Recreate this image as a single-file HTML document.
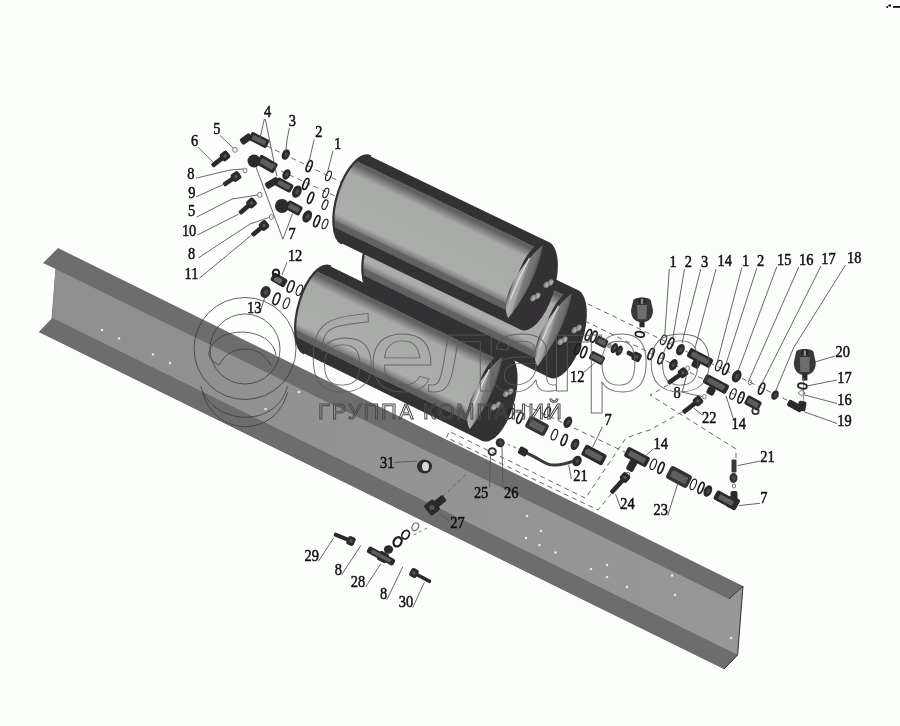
<!DOCTYPE html><html><head><meta charset="utf-8"><style>html,body{margin:0;padding:0;background:#fcfefc;} svg{display:block;will-change:transform}</style></head><body>
<svg width="900" height="726" viewBox="0 0 900 726">
<defs>
<linearGradient id="cg" gradientUnits="userSpaceOnUse" x1="0" y1="-1" x2="0" y2="1">
<stop offset="0" stop-color="#333133"/><stop offset="0.11" stop-color="#333133"/>
<stop offset="0.112" stop-color="#5f5e60"/><stop offset="0.15" stop-color="#626162"/>
<stop offset="0.26" stop-color="#a8aaa8"/><stop offset="0.73" stop-color="#abadab"/>
<stop offset="0.80" stop-color="#7c7c7c"/><stop offset="0.81" stop-color="#646364"/><stop offset="0.875" stop-color="#5f5e60"/>
<stop offset="0.877" stop-color="#333133"/><stop offset="1" stop-color="#333133"/>
</linearGradient>
<linearGradient id="lg" gradientUnits="objectBoundingBox" x1="0" y1="0" x2="1" y2="0">
<stop offset="0" stop-color="#3e3e3e"/><stop offset="0.1" stop-color="#8e8e8e"/>
<stop offset="0.22" stop-color="#b2b2b2"/><stop offset="0.45" stop-color="#a2a2a2"/><stop offset="0.55" stop-color="#7c7c7c"/><stop offset="0.85" stop-color="#6c6c6c"/><stop offset="1" stop-color="#505050"/>
</linearGradient>
<linearGradient id="wg" gradientUnits="userSpaceOnUse" x1="50" y1="0" x2="740" y2="0"><stop offset="0" stop-color="#8f8f8f"/><stop offset="1" stop-color="#979797"/></linearGradient>
</defs>
<rect width="900" height="726" fill="#fcfefc"/>
<polygon points="58,248 743,586 737.6,655 724,669 39,332 51.5,319 55.5,269 43,263" fill="#6d6d6d"/>
<polygon points="55.5,269 729,599 743,586 737.6,655 52,318" fill="url(#wg)"/>
<polygon points="52,318 737.6,655 724,669 39,332 51.5,319" fill="#6d6d6d"/>
<polyline points="743,586 729,599" stroke="#333" stroke-width="1" fill="none"/>
<polyline points="743,586 737.6,655 724,669" stroke="#333" stroke-width="1" fill="none"/>
<circle cx="102" cy="330" r="1.3" fill="#e8e8e8"/>
<circle cx="119" cy="338.5" r="1.3" fill="#e8e8e8"/>
<circle cx="153" cy="354.5" r="1.3" fill="#e8e8e8"/>
<circle cx="170" cy="363" r="1.3" fill="#e8e8e8"/>
<circle cx="265.5" cy="409" r="1.3" fill="#e8e8e8"/>
<circle cx="299" cy="392" r="1.3" fill="#e8e8e8"/>
<circle cx="527" cy="516" r="1.3" fill="#e8e8e8"/>
<circle cx="541" cy="531" r="1.3" fill="#e8e8e8"/>
<circle cx="526" cy="538" r="1.3" fill="#e8e8e8"/>
<circle cx="539.5" cy="545" r="1.3" fill="#e8e8e8"/>
<circle cx="555.5" cy="552.5" r="1.3" fill="#e8e8e8"/>
<circle cx="591" cy="569" r="1.3" fill="#e8e8e8"/>
<circle cx="607" cy="565" r="1.3" fill="#e8e8e8"/>
<circle cx="607" cy="577" r="1.3" fill="#e8e8e8"/>
<circle cx="627" cy="587" r="1.3" fill="#e8e8e8"/>
<circle cx="672" cy="575.5" r="1.3" fill="#e8e8e8"/>
<circle cx="675" cy="595" r="1.3" fill="#e8e8e8"/>
<circle cx="731" cy="638" r="1.3" fill="#e8e8e8"/>
<g transform="matrix(0.901,0.434,-14.4,43.6,385.4,248)">
<path d="M0,-1 L198,-1 L198,1 L0,1 A20,1 0 0 1 0,-1 Z" fill="url(#cg)"/>
<path d="M0,-1 A20,1 0 0 0 0,1" fill="none" stroke="#333133" stroke-width="2.2" vector-effect="non-scaling-stroke"/>
<ellipse cx="198" cy="0" rx="20" ry="1" fill="#333133"/>
<path d="M192.5,-0.87 C186,-0.62 176.5,-0.15 175,0.3 C174.2,0.6 178,0.82 182.8,0.89 C187.5,0.6 192.5,0.2 194.3,-0.3 C194.8,-0.6 193.8,-0.82 192.5,-0.87 Z" fill="url(#lg)"/>
<path d="M184,-0.5 C181,-0.1 179.5,0.25 178.8,0.5" fill="none" stroke="#e0e0e0" stroke-width="1.2" vector-effect="non-scaling-stroke"/>
</g>
<ellipse cx="574.5" cy="330.2" rx="2.6" ry="3.4" transform="rotate(30 574.5 330.2)" fill="#8a8a8a"/>
<ellipse cx="575.1" cy="329.8" rx="1.3" ry="2" transform="rotate(30 574.5 330.2)" fill="#b0b0b0"/>
<ellipse cx="578.9" cy="327.8" rx="2.6" ry="3.4" transform="rotate(30 578.9 327.8)" fill="#8a8a8a"/>
<ellipse cx="579.5" cy="327.4" rx="1.3" ry="2" transform="rotate(30 578.9 327.8)" fill="#b0b0b0"/>
<ellipse cx="560.4" cy="341.9" rx="2.6" ry="3.4" transform="rotate(30 560.4 341.9)" fill="#8a8a8a"/>
<ellipse cx="561" cy="341.5" rx="1.3" ry="2" transform="rotate(30 560.4 341.9)" fill="#b0b0b0"/>
<ellipse cx="564.8" cy="339.5" rx="2.6" ry="3.4" transform="rotate(30 564.8 339.5)" fill="#8a8a8a"/>
<ellipse cx="565.4" cy="339.1" rx="1.3" ry="2" transform="rotate(30 564.8 339.5)" fill="#b0b0b0"/>
<g transform="matrix(0.901,0.434,-14.4,43.6,356.4,200)">
<path d="M0,-1 L198,-1 L198,1 L0,1 A20,1 0 0 1 0,-1 Z" fill="url(#cg)"/>
<path d="M0,-1 A20,1 0 0 0 0,1" fill="none" stroke="#333133" stroke-width="2.2" vector-effect="non-scaling-stroke"/>
<ellipse cx="198" cy="0" rx="20" ry="1" fill="#333133"/>
<path d="M192.5,-0.87 C186,-0.62 176.5,-0.15 175,0.3 C174.2,0.6 178,0.82 182.8,0.89 C187.5,0.6 192.5,0.2 194.3,-0.3 C194.8,-0.6 193.8,-0.82 192.5,-0.87 Z" fill="url(#lg)"/>
<path d="M184,-0.5 C181,-0.1 179.5,0.25 178.8,0.5" fill="none" stroke="#e0e0e0" stroke-width="1.2" vector-effect="non-scaling-stroke"/>
</g>
<ellipse cx="546.4" cy="284.9" rx="2.6" ry="3.4" transform="rotate(30 546.4 284.9)" fill="#8a8a8a"/>
<ellipse cx="547" cy="284.5" rx="1.3" ry="2" transform="rotate(30 546.4 284.9)" fill="#b0b0b0"/>
<ellipse cx="550.8" cy="282.5" rx="2.6" ry="3.4" transform="rotate(30 550.8 282.5)" fill="#8a8a8a"/>
<ellipse cx="551.4" cy="282.1" rx="1.3" ry="2" transform="rotate(30 550.8 282.5)" fill="#b0b0b0"/>
<ellipse cx="533.2" cy="298.2" rx="2.6" ry="3.4" transform="rotate(30 533.2 298.2)" fill="#8a8a8a"/>
<ellipse cx="533.8" cy="297.8" rx="1.3" ry="2" transform="rotate(30 533.2 298.2)" fill="#b0b0b0"/>
<ellipse cx="537.6" cy="295.8" rx="2.6" ry="3.4" transform="rotate(30 537.6 295.8)" fill="#8a8a8a"/>
<ellipse cx="538.2" cy="295.4" rx="1.3" ry="2" transform="rotate(30 537.6 295.8)" fill="#b0b0b0"/>
<g transform="matrix(0.898,0.44,-13.25,43.55,317.45,310.05)">
<path d="M0,-1 L198,-1 L198,1 L0,1 A20,1 0 0 1 0,-1 Z" fill="url(#cg)"/>
<path d="M0,-1 A20,1 0 0 0 0,1" fill="none" stroke="#333133" stroke-width="2.2" vector-effect="non-scaling-stroke"/>
<ellipse cx="198" cy="0" rx="20" ry="1" fill="#333133"/>
<path d="M192.5,-0.87 C186,-0.62 176.5,-0.15 175,0.3 C174.2,0.6 178,0.82 182.8,0.89 C187.5,0.6 192.5,0.2 194.3,-0.3 C194.8,-0.6 193.8,-0.82 192.5,-0.87 Z" fill="url(#lg)"/>
<path d="M184,-0.5 C181,-0.1 179.5,0.25 178.8,0.5" fill="none" stroke="#e0e0e0" stroke-width="1.2" vector-effect="non-scaling-stroke"/>
</g>
<ellipse cx="506" cy="393.9" rx="2.6" ry="3.4" transform="rotate(30 506 393.9)" fill="#8a8a8a"/>
<ellipse cx="506.6" cy="393.5" rx="1.3" ry="2" transform="rotate(30 506 393.9)" fill="#b0b0b0"/>
<ellipse cx="510.4" cy="391.5" rx="2.6" ry="3.4" transform="rotate(30 510.4 391.5)" fill="#8a8a8a"/>
<ellipse cx="511" cy="391.1" rx="1.3" ry="2" transform="rotate(30 510.4 391.5)" fill="#b0b0b0"/>
<ellipse cx="493.8" cy="407.2" rx="2.6" ry="3.4" transform="rotate(30 493.8 407.2)" fill="#8a8a8a"/>
<ellipse cx="494.4" cy="406.8" rx="1.3" ry="2" transform="rotate(30 493.8 407.2)" fill="#b0b0b0"/>
<ellipse cx="498.2" cy="404.8" rx="2.6" ry="3.4" transform="rotate(30 498.2 404.8)" fill="#8a8a8a"/>
<ellipse cx="498.8" cy="404.4" rx="1.3" ry="2" transform="rotate(30 498.2 404.8)" fill="#b0b0b0"/>
<polyline points="267,146 341,182" fill="none" stroke="#666" stroke-width="1" stroke-dasharray="5,4"/>
<polyline points="281,171 335,196" fill="none" stroke="#666" stroke-width="1" stroke-dasharray="5,4"/>
<polyline points="588,304 795,404" fill="none" stroke="#666" stroke-width="1" stroke-dasharray="5,4"/>
<polyline points="585,321 750,402" fill="none" stroke="#666" stroke-width="1" stroke-dasharray="5,4"/>
<polyline points="668,385 650,395 736,449 736,460" fill="none" stroke="#666" stroke-width="1" stroke-dasharray="5,4"/>
<polyline points="682,412 650,430 640,433 626,438 585.5,498.2 449.5,431.5 446.5,437.5 598,510 612,493 628,474" fill="none" stroke="#666" stroke-width="1" stroke-dasharray="5,4"/>
<polyline points="525,405 625,452" fill="none" stroke="#666" stroke-width="1" stroke-dasharray="5,4"/>
<polyline points="465.8,474.5 426,512.6" fill="none" stroke="#666" stroke-width="1" stroke-dasharray="4,3"/>
<polyline points="502,442 520,449.5" fill="none" stroke="#666" stroke-width="1" stroke-dasharray="3,3"/>
<polyline points="427,528 412,536" fill="none" stroke="#777" stroke-width="1" stroke-dasharray="3,3"/>
<rect x="249" y="135.5" width="20" height="9" rx="2" transform="rotate(27 259 140)" fill="#2a2a2a"/>
<rect x="240" y="135.5" width="12" height="7" rx="2" transform="rotate(-35 246 139)" fill="#2a2a2a"/>
<rect x="257" y="158.5" width="20" height="11" rx="2" transform="rotate(30 267 164)" fill="#2a2a2a"/>
<circle cx="254" cy="161" r="6.5" fill="#2a2a2a"/>
<rect x="275" y="180.5" width="18" height="9" rx="2" transform="rotate(28 284 185)" fill="#2a2a2a"/>
<rect x="265" y="179.5" width="14" height="7" rx="2" transform="rotate(-30 272 183)" fill="#2a2a2a"/>
<rect x="286" y="203" width="16" height="10" rx="2" transform="rotate(28 294 208)" fill="#2a2a2a"/>
<circle cx="282" cy="206" r="7" fill="#2a2a2a"/>
<rect x="210.3" y="158.7" width="16.401219466856727" height="4.6" rx="1.5" transform="rotate(142.43140797117252 218.5 161.0)" fill="#2a2a2a"/>
<rect x="220.5" y="151.5" width="9" height="9" rx="2.5" transform="rotate(142.43140797117252 225 156)" fill="#2a2a2a"/>
<circle cx="225" cy="156" r="1.8" fill="#555"/>
<rect x="222.2" y="178.4" width="15.116216457830975" height="4.6" rx="1.5" transform="rotate(145.7842978675626 229.75 180.75)" fill="#2a2a2a"/>
<rect x="231.5" y="172" width="9" height="9" rx="2.5" transform="rotate(145.7842978675626 236 176.5)" fill="#2a2a2a"/>
<circle cx="236" cy="176.5" r="1.8" fill="#555"/>
<rect x="237.5" y="205.9" width="15.945218719101975" height="4.6" rx="1.5" transform="rotate(138.81407483429035 245.5 208.25)" fill="#2a2a2a"/>
<rect x="247" y="198.5" width="9" height="9" rx="2.5" transform="rotate(138.81407483429035 251.5 203)" fill="#2a2a2a"/>
<circle cx="251.5" cy="203" r="1.8" fill="#555"/>
<rect x="250.2" y="228.2" width="15.620499351813308" height="4.6" rx="1.5" transform="rotate(140.19442890773482 258.0 230.5)" fill="#2a2a2a"/>
<rect x="259.5" y="221" width="9" height="9" rx="2.5" transform="rotate(140.19442890773482 264 225.5)" fill="#2a2a2a"/>
<circle cx="264" cy="225.5" r="1.8" fill="#555"/>
<ellipse cx="235" cy="149.8" rx="2.2" ry="2.6" transform="rotate(0 235 149.8)" fill="none" stroke="#777" stroke-width="1"/>
<ellipse cx="259.8" cy="194.8" rx="2.2" ry="2.6" transform="rotate(0 259.8 194.8)" fill="none" stroke="#777" stroke-width="1"/>
<ellipse cx="245" cy="170.5" rx="2" ry="2.4" transform="rotate(0 245 170.5)" fill="none" stroke="#777" stroke-width="1"/>
<ellipse cx="271.3" cy="217" rx="2" ry="2.4" transform="rotate(0 271.3 217)" fill="none" stroke="#777" stroke-width="1"/>
<ellipse cx="285.8" cy="154.5" rx="3.8" ry="5.5" transform="rotate(25 285.8 154.5)" fill="#2a2a2a"/>
<ellipse cx="286.2" cy="154.5" rx="1.52" ry="2.475" transform="rotate(25 285.8 154.5)" fill="#4a4a4a"/>
<ellipse cx="286.5" cy="174.4" rx="3.8" ry="5.5" transform="rotate(25 286.5 174.4)" fill="#2a2a2a"/>
<ellipse cx="286.9" cy="174.4" rx="1.52" ry="2.475" transform="rotate(25 286.5 174.4)" fill="#4a4a4a"/>
<ellipse cx="296.9" cy="191.6" rx="4.5" ry="6.5" transform="rotate(25 296.9 191.6)" fill="#2a2a2a"/>
<ellipse cx="297.29999999999995" cy="191.6" rx="1.8" ry="2.9250000000000003" transform="rotate(25 296.9 191.6)" fill="#4a4a4a"/>
<ellipse cx="307.2" cy="216.4" rx="4.5" ry="6.5" transform="rotate(25 307.2 216.4)" fill="#2a2a2a"/>
<ellipse cx="307.59999999999997" cy="216.4" rx="1.8" ry="2.9250000000000003" transform="rotate(25 307.2 216.4)" fill="#4a4a4a"/>
<ellipse cx="309.2" cy="166.2" rx="2.3" ry="5.8" transform="rotate(22 309.2 166.2)" fill="none" stroke="#1e1e1e" stroke-width="1.7"/>
<ellipse cx="305.8" cy="184" rx="2.3" ry="5.8" transform="rotate(22 305.8 184)" fill="none" stroke="#1e1e1e" stroke-width="1.7"/>
<ellipse cx="310.6" cy="197.8" rx="2.3" ry="5.8" transform="rotate(22 310.6 197.8)" fill="none" stroke="#1e1e1e" stroke-width="1.7"/>
<ellipse cx="316.8" cy="221.2" rx="2.3" ry="5.8" transform="rotate(22 316.8 221.2)" fill="none" stroke="#1e1e1e" stroke-width="1.7"/>
<ellipse cx="328.5" cy="175.8" rx="2.4" ry="5" transform="rotate(22 328.5 175.8)" fill="none" stroke="#1e1e1e" stroke-width="1.1"/>
<ellipse cx="325.8" cy="193" rx="2.4" ry="5" transform="rotate(22 325.8 193)" fill="none" stroke="#1e1e1e" stroke-width="1.1"/>
<ellipse cx="325" cy="204.7" rx="2.4" ry="5" transform="rotate(22 325 204.7)" fill="none" stroke="#1e1e1e" stroke-width="1.1"/>
<ellipse cx="325" cy="224" rx="2.4" ry="5" transform="rotate(22 325 224)" fill="none" stroke="#1e1e1e" stroke-width="1.1"/>
<rect x="271" y="275.5" width="16" height="9" rx="2" transform="rotate(30 279 280)" fill="#2a2a2a"/>
<rect x="274" y="277.5" width="8" height="5" rx="1" transform="rotate(30 278 280)" fill="#6a6a6a"/>
<ellipse cx="276" cy="273" rx="3.2" ry="3.6" fill="none" stroke="#222" stroke-width="2"/>
<ellipse cx="265.5" cy="292" rx="5" ry="6.2" transform="rotate(25 265.5 292)" fill="#2e2e2e"/>
<ellipse cx="265.9" cy="292" rx="2.0" ry="2.79" transform="rotate(25 265.5 292)" fill="#4a4a4a"/>
<ellipse cx="290.7" cy="286.5" rx="2.8" ry="6" transform="rotate(22 290.7 286.5)" fill="none" stroke="#1e1e1e" stroke-width="1.6"/>
<ellipse cx="299.4" cy="290.2" rx="2.6" ry="5.5" transform="rotate(22 299.4 290.2)" fill="none" stroke="#1e1e1e" stroke-width="1.1"/>
<ellipse cx="276.5" cy="298.9" rx="2.8" ry="6" transform="rotate(22 276.5 298.9)" fill="none" stroke="#1e1e1e" stroke-width="1.6"/>
<ellipse cx="286.4" cy="303.2" rx="2.6" ry="5.5" transform="rotate(22 286.4 303.2)" fill="none" stroke="#1e1e1e" stroke-width="1.1"/>
<ellipse cx="588.4" cy="335" rx="2.3" ry="5.8" transform="rotate(22 588.4 335)" fill="none" stroke="#1e1e1e" stroke-width="1.7"/>
<ellipse cx="593.9" cy="336.7" rx="2.3" ry="5.8" transform="rotate(22 593.9 336.7)" fill="none" stroke="#1e1e1e" stroke-width="1.7"/>
<ellipse cx="577.5" cy="349" rx="2.3" ry="5.8" transform="rotate(22 577.5 349)" fill="none" stroke="#1e1e1e" stroke-width="1.7"/>
<ellipse cx="583.8" cy="352.2" rx="2.3" ry="5.8" transform="rotate(22 583.8 352.2)" fill="none" stroke="#1e1e1e" stroke-width="1.7"/>
<rect x="595.6" y="337.5" width="12" height="9" rx="2" transform="rotate(28 601.6 342)" fill="#2a2a2a"/>
<ellipse cx="609.4" cy="345.6" rx="2.4" ry="3" fill="#9a9a9a"/>
<ellipse cx="614.3" cy="348.2" rx="3.2" ry="5.4" transform="rotate(25 614.3 348.2)" fill="#2a2a2a"/>
<ellipse cx="614.6999999999999" cy="348.2" rx="1.2800000000000002" ry="2.43" transform="rotate(25 614.3 348.2)" fill="#4a4a4a"/>
<ellipse cx="619.2" cy="350.6" rx="3.2" ry="5.4" transform="rotate(25 619.2 350.6)" fill="#2a2a2a"/>
<ellipse cx="619.6" cy="350.6" rx="1.2800000000000002" ry="2.43" transform="rotate(25 619.2 350.6)" fill="#4a4a4a"/>
<rect x="626.4" y="352.1" width="10.778218776773842" height="4.6" rx="1.5" transform="rotate(-152.9594760904743 631.8 354.45)" fill="#2a2a2a"/>
<rect x="632.1" y="352.4" width="9" height="9" rx="2.5" transform="rotate(-152.9594760904743 636.6 356.9)" fill="#2a2a2a"/>
<circle cx="636.6" cy="356.9" r="1.8" fill="#555"/>
<rect x="589.5" y="353.5" width="15" height="9" rx="2" transform="rotate(28 597 358)" fill="#2a2a2a"/>
<path d="M633.2,300.6 C633.8,296.5 650.2,296.5 650.8,300.6 L653,310.2 C653,317.9 648.6,322.2 642,322.2 C635.4,322.2 631,317.9 631,310.2 Z" fill="#383838"/>
<path d="M637,305.1 L647,305.1 L646.4,319.2 L637.6,319.2 Z" fill="#6e6e6e"/>
<ellipse cx="642" cy="300.8" rx="3.8" ry="3.1" fill="#262626"/>
<rect x="640.8" y="298.8" width="2.4" height="5.1" fill="#8a8a8a"/>
<rect x="639.4" y="321.7" width="5.2" height="5.6" fill="#2a2a2a"/>
<ellipse cx="639.8" cy="334.3" rx="4.5" ry="2.6" transform="rotate(10 639.8 334.3)" fill="none" stroke="#222" stroke-width="1.8"/>
<ellipse cx="651" cy="354" rx="2.3" ry="5.8" transform="rotate(22 651 354)" fill="none" stroke="#1e1e1e" stroke-width="1.7"/>
<ellipse cx="661" cy="358.4" rx="2.3" ry="5.8" transform="rotate(22 661 358.4)" fill="none" stroke="#1e1e1e" stroke-width="1.7"/>
<ellipse cx="663.6" cy="339.8" rx="2.6" ry="5" transform="rotate(22 663.6 339.8)" fill="none" stroke="#1e1e1e" stroke-width="1.1"/>
<ellipse cx="670.7" cy="343.3" rx="2.3" ry="5.8" transform="rotate(22 670.7 343.3)" fill="none" stroke="#1e1e1e" stroke-width="1.7"/>
<ellipse cx="680.4" cy="349.6" rx="4" ry="6" transform="rotate(25 680.4 349.6)" fill="#2a2a2a"/>
<ellipse cx="680.8" cy="349.6" rx="1.6" ry="2.7" transform="rotate(25 680.4 349.6)" fill="#4a4a4a"/>
<rect x="687" y="353" width="26" height="10" rx="2" transform="rotate(28 700 358)" fill="#2a2a2a"/>
<rect x="692" y="360" width="8" height="8" rx="2" transform="rotate(28 696 364)" fill="#2a2a2a"/>
<ellipse cx="673.3" cy="364.7" rx="4" ry="6" transform="rotate(25 673.3 364.7)" fill="#2a2a2a"/>
<ellipse cx="673.6999999999999" cy="364.7" rx="1.6" ry="2.7" transform="rotate(25 673.3 364.7)" fill="#4a4a4a"/>
<rect x="666.3" y="375.7" width="18.367362358270185" height="4.6" rx="1.5" transform="rotate(144.75242494165374 675.5 378.0)" fill="#2a2a2a"/>
<rect x="678.5" y="368.2" width="9" height="9" rx="2.5" transform="rotate(144.75242494165374 683 372.7)" fill="#2a2a2a"/>
<circle cx="683" cy="372.7" r="1.8" fill="#555"/>
<rect x="703" y="379" width="26" height="10" rx="2" transform="rotate(28 716 384)" fill="#2a2a2a"/>
<rect x="707" y="387" width="8" height="8" rx="2" transform="rotate(28 711 391)" fill="#2a2a2a"/>
<ellipse cx="718.7" cy="365.6" rx="2.6" ry="5.5" transform="rotate(22 718.7 365.6)" fill="none" stroke="#1e1e1e" stroke-width="1.2"/>
<ellipse cx="725.8" cy="369" rx="2.3" ry="5.8" transform="rotate(22 725.8 369)" fill="none" stroke="#1e1e1e" stroke-width="1.7"/>
<ellipse cx="736.7" cy="376.2" rx="4.5" ry="6.5" transform="rotate(25 736.7 376.2)" fill="#2a2a2a"/>
<ellipse cx="737.1" cy="376.2" rx="1.8" ry="2.9250000000000003" transform="rotate(25 736.7 376.2)" fill="#4a4a4a"/>
<ellipse cx="750" cy="382.4" rx="1.8" ry="2.4" transform="rotate(0 750 382.4)" fill="none" stroke="#777" stroke-width="1"/>
<ellipse cx="761.6" cy="388.7" rx="2.3" ry="5.8" transform="rotate(22 761.6 388.7)" fill="none" stroke="#1e1e1e" stroke-width="1.7"/>
<ellipse cx="775" cy="395" rx="3.5" ry="5" transform="rotate(25 775 395)" fill="#2a2a2a"/>
<ellipse cx="775.4" cy="395" rx="1.4000000000000001" ry="2.25" transform="rotate(25 775 395)" fill="#4a4a4a"/>
<ellipse cx="733" cy="394" rx="2.6" ry="5.5" transform="rotate(22 733 394)" fill="none" stroke="#1e1e1e" stroke-width="1.2"/>
<ellipse cx="741" cy="397.6" rx="2.3" ry="5.8" transform="rotate(22 741 397.6)" fill="none" stroke="#1e1e1e" stroke-width="1.7"/>
<rect x="745" y="398" width="16" height="10" rx="2" transform="rotate(28 753 403)" fill="#2a2a2a"/>
<ellipse cx="755.5" cy="411" rx="3.2" ry="3.2" transform="rotate(0 755.5 411)" fill="none" stroke="#333" stroke-width="1.8"/>
<rect x="681" y="404.6" width="19.02340663498522" height="4.6" rx="1.5" transform="rotate(142.04576912486752 690.5 406.85)" fill="#2a2a2a"/>
<rect x="693.5" y="396.5" width="9" height="9" rx="2.5" transform="rotate(142.04576912486752 698 401)" fill="#2a2a2a"/>
<circle cx="698" cy="401" r="1.8" fill="#555"/>
<ellipse cx="687.6" cy="368.2" rx="1.8" ry="2.2" transform="rotate(0 687.6 368.2)" fill="none" stroke="#777" stroke-width="1"/>
<ellipse cx="704.4" cy="396.7" rx="1.8" ry="2.2" transform="rotate(0 704.4 396.7)" fill="none" stroke="#777" stroke-width="1"/>
<path d="M796,352.2 C796.5,347.9 813,347.9 813.6,352.2 L815.8,362.5 C815.8,370.6 811.4,375.2 804.8,375.2 C798.2,375.2 793.8,370.6 793.8,362.5 Z" fill="#383838"/>
<path d="M799.8,357.1 L809.8,357.1 L809.2,371.9 L800.4,371.9 Z" fill="#6e6e6e"/>
<ellipse cx="804.8" cy="352.5" rx="3.8" ry="3.2" fill="#262626"/>
<rect x="803.6" y="350.4" width="2.4" height="5.4" fill="#8a8a8a"/>
<rect x="802.2" y="374.6" width="5.2" height="5.9" fill="#2a2a2a"/>
<polyline points="803.5,378 803.5,401" fill="none" stroke="#777" stroke-width="0.8"/>
<ellipse cx="802.4" cy="386" rx="4.5" ry="2.6" transform="rotate(10 802.4 386)" fill="none" stroke="#222" stroke-width="1.8"/>
<path d="M801.6,390 L805,393 L801.6,396 L798.2,393 Z" fill="none" stroke="#666" stroke-width="1"/>
<rect x="787" y="402.5" width="16" height="7" rx="2" transform="rotate(28 795 406)" fill="#2a2a2a"/>
<rect x="798" y="401" width="8" height="10" rx="2" transform="rotate(10 802 406)" fill="#2a2a2a"/>
<rect x="624.5" y="451.5" width="25" height="11" rx="2" transform="rotate(28 637 457)" fill="#2a2a2a"/>
<rect x="628" y="458.5" width="8" height="13" rx="2" transform="rotate(28 632 465)" fill="#2a2a2a"/>
<ellipse cx="628" cy="474.5" rx="1.8" ry="2.2" transform="rotate(0 628 474.5)" fill="none" stroke="#777" stroke-width="1"/>
<rect x="607.6" y="482.9" width="20.886598574205422" height="4.6" rx="1.5" transform="rotate(132.08916217383225 618.0 485.25)" fill="#2a2a2a"/>
<rect x="620.5" y="473" width="9" height="9" rx="2.5" transform="rotate(132.08916217383225 625 477.5)" fill="#2a2a2a"/>
<circle cx="625" cy="477.5" r="1.8" fill="#555"/>
<ellipse cx="653.3" cy="464.4" rx="2.6" ry="5.5" transform="rotate(22 653.3 464.4)" fill="none" stroke="#1e1e1e" stroke-width="1.2"/>
<ellipse cx="661" cy="467.8" rx="2.3" ry="5.8" transform="rotate(22 661 467.8)" fill="none" stroke="#1e1e1e" stroke-width="1.7"/>
<rect x="667" y="470" width="24" height="14" rx="3" transform="rotate(28 679 477)" fill="#333"/>
<ellipse cx="693.3" cy="484.4" rx="2.6" ry="5.5" transform="rotate(22 693.3 484.4)" fill="none" stroke="#1e1e1e" stroke-width="1.2"/>
<ellipse cx="701" cy="487.8" rx="2.3" ry="5.8" transform="rotate(22 701 487.8)" fill="none" stroke="#1e1e1e" stroke-width="1.7"/>
<ellipse cx="707.8" cy="491" rx="4" ry="6" transform="rotate(25 707.8 491)" fill="#2a2a2a"/>
<ellipse cx="708.1999999999999" cy="491" rx="1.6" ry="2.7" transform="rotate(25 707.8 491)" fill="#4a4a4a"/>
<rect x="714" y="494" width="20" height="10" rx="2" transform="rotate(28 724 499)" fill="#2a2a2a"/>
<rect x="730.5" y="491" width="7" height="10" rx="2" transform="rotate(0 734 496)" fill="#2a2a2a"/>
<rect x="727.5" y="497" width="11" height="12" rx="2" transform="rotate(28 733 503)" fill="#2a2a2a"/>
<rect x="731.5" y="459.5" width="5" height="13" rx="1" transform="rotate(0 734 466)" fill="#3a3a3a"/>
<ellipse cx="733.5" cy="478" rx="4" ry="5" transform="rotate(0 733.5 478)" fill="#333"/>
<ellipse cx="733.9" cy="478" rx="1.6" ry="2.25" transform="rotate(0 733.5 478)" fill="#4a4a4a"/>
<ellipse cx="734" cy="486" rx="1.6" ry="2" transform="rotate(0 734 486)" fill="none" stroke="#777" stroke-width="1"/>
<ellipse cx="511" cy="413.3" rx="2.6" ry="5.5" transform="rotate(22 511 413.3)" fill="none" stroke="#1e1e1e" stroke-width="1.2"/>
<ellipse cx="519.8" cy="417.8" rx="2.3" ry="5.8" transform="rotate(22 519.8 417.8)" fill="none" stroke="#1e1e1e" stroke-width="1.7"/>
<rect x="526" y="419.5" width="22" height="13" rx="3" transform="rotate(28 537 426)" fill="#333"/>
<ellipse cx="547.3" cy="412.4" rx="2.6" ry="5.5" transform="rotate(22 547.3 412.4)" fill="none" stroke="#1e1e1e" stroke-width="1.2"/>
<ellipse cx="567.8" cy="422.2" rx="4" ry="6" transform="rotate(25 567.8 422.2)" fill="#2a2a2a"/>
<ellipse cx="568.1999999999999" cy="422.2" rx="1.6" ry="2.7" transform="rotate(25 567.8 422.2)" fill="#4a4a4a"/>
<ellipse cx="554.4" cy="434.7" rx="2.6" ry="5.5" transform="rotate(22 554.4 434.7)" fill="none" stroke="#1e1e1e" stroke-width="1.2"/>
<ellipse cx="564.2" cy="440" rx="2.3" ry="5.8" transform="rotate(22 564.2 440)" fill="none" stroke="#1e1e1e" stroke-width="1.7"/>
<ellipse cx="575" cy="444.4" rx="4" ry="6" transform="rotate(25 575 444.4)" fill="#2a2a2a"/>
<ellipse cx="575.4" cy="444.4" rx="1.6" ry="2.7" transform="rotate(25 575 444.4)" fill="#4a4a4a"/>
<rect x="582" y="449" width="24" height="12" rx="2" transform="rotate(28 594 455)" fill="#2a2a2a"/>
<ellipse cx="587" cy="452" rx="1.6" ry="2" transform="rotate(0 587 452)" fill="none" stroke="#777" stroke-width="1"/>
<path d="M524,452 C540,458 545,466 556,465 C562,465 568,463 574,461" fill="none" stroke="#3a3a3a" stroke-width="3"/>
<rect x="518.5" y="447.5" width="9" height="8" rx="2" transform="rotate(28 523 451.5)" fill="#2a2a2a"/>
<ellipse cx="577" cy="461" rx="4.5" ry="5.5" transform="rotate(25 577 461)" fill="#2a2a2a"/>
<ellipse cx="577.4" cy="461" rx="1.8" ry="2.475" transform="rotate(25 577 461)" fill="#4a4a4a"/>
<ellipse cx="492.2" cy="451.6" rx="3.6" ry="3.4" transform="rotate(0 492.2 451.6)" fill="none" stroke="#333" stroke-width="2"/>
<ellipse cx="500.2" cy="442.7" rx="4.5" ry="4.5" transform="rotate(0 500.2 442.7)" fill="#2e2e2e"/>
<ellipse cx="500.59999999999997" cy="442.7" rx="1.8" ry="2.025" transform="rotate(0 500.2 442.7)" fill="#4a4a4a"/>
<ellipse cx="424.5" cy="466.5" rx="7.5" ry="7" fill="#2e2e2e"/><ellipse cx="425.5" cy="466.5" rx="3.5" ry="4.5" fill="#d8d8d8"/>
<rect x="430.2" y="498.8" width="16.00781059358212" height="7.5" rx="1.5" transform="rotate(-38.65980825409009 438.25 502.5)" fill="#2a2a2a"/>
<rect x="426" y="501" width="12" height="13" rx="2.5" transform="rotate(-38.65980825409009 432 507.5)" fill="#2a2a2a"/>
<circle cx="432" cy="507.5" r="2.6" fill="#555"/>
<rect x="333.3" y="535.5" width="18.384776310850235" height="4" rx="1.5" transform="rotate(-157.61986494804043 342.5 537.5)" fill="#2a2a2a"/>
<rect x="347" y="536.5" width="8" height="9" rx="2.5" transform="rotate(-157.61986494804043 351 541)" fill="#2a2a2a"/>
<circle cx="351" cy="541" r="1.8" fill="#555"/>
<rect x="366" y="552.5" width="30" height="7" rx="2" transform="rotate(28 381 556)" fill="#2a2a2a"/>
<rect x="378" y="552" width="10" height="10" rx="2" transform="rotate(28 383 557)" fill="#2a2a2a"/>
<ellipse cx="388.5" cy="549.5" rx="4.6" ry="4.2" fill="#2a2a2a"/>
<ellipse cx="397.6" cy="541.8" rx="3.8" ry="4.8" transform="rotate(30 397.6 541.8)" fill="none" stroke="#1e1e1e" stroke-width="2.3"/>
<ellipse cx="405.6" cy="534.7" rx="3.5" ry="4.5" transform="rotate(30 405.6 534.7)" fill="none" stroke="#1e1e1e" stroke-width="1.7"/>
<ellipse cx="415.3" cy="526.7" rx="3" ry="4" transform="rotate(30 415.3 526.7)" fill="none" stroke="#666" stroke-width="1.1"/>
<rect x="412.9" y="575.8" width="19.235384061671343" height="3.5" rx="1.5" transform="rotate(27.89727103094763 422.5 577.5)" fill="#2a2a2a"/>
<rect x="410" y="568.5" width="8" height="9" rx="2.5" transform="rotate(27.89727103094763 414 573)" fill="#2a2a2a"/>
<circle cx="414" cy="573" r="1.8" fill="#555"/>
<rect x="251.8" y="137.7" width="14.4" height="4.7" rx="1" transform="rotate(27 259 140)" fill="#5e5e5e"/>
<rect x="259.8" y="161.1" width="14.4" height="5.7" rx="1" transform="rotate(30 267 164)" fill="#5e5e5e"/>
<rect x="277.5" y="182.7" width="13" height="4.7" rx="1" transform="rotate(28 284 185)" fill="#5e5e5e"/>
<rect x="288.2" y="205.4" width="11.5" height="5.2" rx="1" transform="rotate(28 294 208)" fill="#5e5e5e"/>
<rect x="690.6" y="355.4" width="18.7" height="5.2" rx="1" transform="rotate(28 700 358)" fill="#5e5e5e"/>
<rect x="706.6" y="381.4" width="18.7" height="5.2" rx="1" transform="rotate(28 716 384)" fill="#5e5e5e"/>
<rect x="747.2" y="400.4" width="11.5" height="5.2" rx="1" transform="rotate(28 753 403)" fill="#5e5e5e"/>
<rect x="628" y="454.1" width="18" height="5.7" rx="1" transform="rotate(28 637 457)" fill="#5e5e5e"/>
<rect x="670.4" y="473.4" width="17.3" height="7.3" rx="1" transform="rotate(28 679 477)" fill="#5e5e5e"/>
<rect x="718.1" y="497.4" width="15.8" height="5.2" rx="1" transform="rotate(28 726 500)" fill="#5e5e5e"/>
<rect x="529.1" y="422.6" width="15.8" height="6.8" rx="1" transform="rotate(28 537 426)" fill="#5e5e5e"/>
<rect x="585.4" y="451.9" width="17.3" height="6.2" rx="1" transform="rotate(28 594 455)" fill="#5e5e5e"/>
<rect x="370.2" y="554.2" width="21.6" height="3.6" rx="1" transform="rotate(28 381 556)" fill="#5e5e5e"/>
<rect x="597.3" y="339.7" width="8.6" height="4.7" rx="1" transform="rotate(28 601.6 342)" fill="#5e5e5e"/>
<rect x="591.6" y="355.7" width="10.8" height="4.7" rx="1" transform="rotate(28 597 358)" fill="#5e5e5e"/>
<polyline points="264.4,119 260,138" fill="none" stroke="#555" stroke-width="0.9"/>
<polyline points="265.3,119 276.9,176.4" fill="none" stroke="#555" stroke-width="0.9"/>
<polyline points="289.3,128 287,140 285.8,151" fill="none" stroke="#555" stroke-width="0.9"/>
<polyline points="314.2,139.5 308.9,162" fill="none" stroke="#555" stroke-width="0.9"/>
<polyline points="332.9,151 327.6,172" fill="none" stroke="#555" stroke-width="0.9"/>
<polyline points="220,135.5 233.3,148" fill="none" stroke="#555" stroke-width="0.9"/>
<polyline points="197.8,147 212.9,162" fill="none" stroke="#555" stroke-width="0.9"/>
<polyline points="196,178.2 230,170 243,169" fill="none" stroke="#555" stroke-width="0.9"/>
<polyline points="196,196.9 225.3,183.6" fill="none" stroke="#555" stroke-width="0.9"/>
<polyline points="196.7,217 232,199 257.5,195" fill="none" stroke="#555" stroke-width="0.9"/>
<polyline points="197.6,234.8 238.4,214.3" fill="none" stroke="#555" stroke-width="0.9"/>
<polyline points="198.4,257.9 250,224 269,217.5" fill="none" stroke="#555" stroke-width="0.9"/>
<polyline points="199.3,278.3 250.9,235.7" fill="none" stroke="#555" stroke-width="0.9"/>
<polyline points="256,167 282.9,239.2 292.7,213.4" fill="none" stroke="#555" stroke-width="0.9"/>
<polyline points="287,262.3 282,275" fill="none" stroke="#555" stroke-width="0.9"/>
<polyline points="259.7,313.1 264.7,298.2" fill="none" stroke="#555" stroke-width="0.9"/>
<polyline points="669.3,269 664.7,336" fill="none" stroke="#555" stroke-width="0.9"/>
<polyline points="684.5,269 672.8,338.3" fill="none" stroke="#555" stroke-width="0.9"/>
<polyline points="700.8,269 682,343" fill="none" stroke="#555" stroke-width="0.9"/>
<polyline points="716,269 695,348" fill="none" stroke="#555" stroke-width="0.9"/>
<polyline points="741.7,268 717,363" fill="none" stroke="#555" stroke-width="0.9"/>
<polyline points="756.8,268 726,364" fill="none" stroke="#555" stroke-width="0.9"/>
<polyline points="776.7,267 738.4,370" fill="none" stroke="#555" stroke-width="0.9"/>
<polyline points="798.8,267 749,380" fill="none" stroke="#555" stroke-width="0.9"/>
<polyline points="821,266 761.6,384" fill="none" stroke="#555" stroke-width="0.9"/>
<polyline points="845.5,265 793.6,347.8 776,390" fill="none" stroke="#555" stroke-width="0.9"/>
<polyline points="835.3,356 814.9,362" fill="none" stroke="#555" stroke-width="0.9"/>
<polyline points="837,380 807,386" fill="none" stroke="#555" stroke-width="0.9"/>
<polyline points="837,403.5 804.2,394.9" fill="none" stroke="#555" stroke-width="0.9"/>
<polyline points="837,423.5 804.2,411.8" fill="none" stroke="#555" stroke-width="0.9"/>
<polyline points="687.6,371 682.2,392.2 702,396.5" fill="none" stroke="#555" stroke-width="0.9"/>
<polyline points="702.7,415.3 693.8,408.2" fill="none" stroke="#555" stroke-width="0.9"/>
<polyline points="734,420.7 726,395.8" fill="none" stroke="#555" stroke-width="0.9"/>
<polyline points="583,373 594.6,363" fill="none" stroke="#555" stroke-width="0.9"/>
<polyline points="602.4,426.7 592.7,447.1" fill="none" stroke="#555" stroke-width="0.9"/>
<polyline points="653.3,449 645.6,455.6" fill="none" stroke="#555" stroke-width="0.9"/>
<polyline points="760,461.1 737.8,465.6" fill="none" stroke="#555" stroke-width="0.9"/>
<polyline points="760,503.3 738.9,505.6" fill="none" stroke="#555" stroke-width="0.9"/>
<polyline points="667.8,515.6 677.8,483.3" fill="none" stroke="#555" stroke-width="0.9"/>
<polyline points="621,508.9 615.6,494.4" fill="none" stroke="#555" stroke-width="0.9"/>
<polyline points="571.3,479 568.7,464.9" fill="none" stroke="#555" stroke-width="0.9"/>
<polyline points="489.6,487.1 490.4,455" fill="none" stroke="#555" stroke-width="0.9"/>
<polyline points="502.9,487.1 502,447" fill="none" stroke="#555" stroke-width="0.9"/>
<polyline points="393.9,462.5 417,461" fill="none" stroke="#555" stroke-width="0.9"/>
<polyline points="450,521 439.3,514" fill="none" stroke="#555" stroke-width="0.9"/>
<polyline points="318.4,561.3 333.6,538" fill="none" stroke="#555" stroke-width="0.9"/>
<polyline points="341.6,574.7 361,545.3" fill="none" stroke="#555" stroke-width="0.9"/>
<polyline points="365.6,587 380.7,564" fill="none" stroke="#555" stroke-width="0.9"/>
<polyline points="386.9,599.6 402.9,566.7" fill="none" stroke="#555" stroke-width="0.9"/>
<polyline points="412.7,607.6 424.2,582.7" fill="none" stroke="#555" stroke-width="0.9"/>
<g font-family="Liberation Serif, serif" fill="#111" stroke="#111" stroke-width="0.5" style="opacity:0.999">
<text transform="translate(263.9,116.7) scale(0.9,1)" font-size="16">4</text>
<text transform="translate(288.7,125.7) scale(0.9,1)" font-size="16">3</text>
<text transform="translate(315.3,137.2) scale(0.9,1)" font-size="16">2</text>
<text transform="translate(334.1,148.7) scale(0.9,1)" font-size="16">1</text>
<text transform="translate(213.2,133.7) scale(0.9,1)" font-size="16">5</text>
<text transform="translate(191,146) scale(0.9,1)" font-size="16">6</text>
<text transform="translate(187.3,179) scale(0.9,1)" font-size="16">8</text>
<text transform="translate(188.3,197.7) scale(0.9,1)" font-size="16">9</text>
<text transform="translate(188.1,216) scale(0.9,1)" font-size="16">5</text>
<text transform="translate(181.9,235.6) scale(0.9,1)" font-size="16">10</text>
<text transform="translate(188.1,258.7) scale(0.9,1)" font-size="16">8</text>
<text transform="translate(184.5,279) scale(0.9,1)" font-size="16">11</text>
<text transform="translate(288.5,239) scale(0.9,1)" font-size="16">7</text>
<text transform="translate(287.9,261.2) scale(0.9,1)" font-size="16">12</text>
<text transform="translate(247,313.2) scale(0.9,1)" font-size="16">13</text>
<text transform="translate(669.6,267.2) scale(0.9,1)" font-size="16">1</text>
<text transform="translate(684.8,266.8) scale(0.9,1)" font-size="16">2</text>
<text transform="translate(701.1,266.6) scale(0.9,1)" font-size="16">3</text>
<text transform="translate(717.5,266.4) scale(0.9,1)" font-size="16">14</text>
<text transform="translate(742,266) scale(0.9,1)" font-size="16">1</text>
<text transform="translate(757.1,265.7) scale(0.9,1)" font-size="16">2</text>
<text transform="translate(777,265.2) scale(0.9,1)" font-size="16">15</text>
<text transform="translate(799.1,264.7) scale(0.9,1)" font-size="16">16</text>
<text transform="translate(821.3,264.2) scale(0.9,1)" font-size="16">17</text>
<text transform="translate(847,263.2) scale(0.9,1)" font-size="16">18</text>
<text transform="translate(835.6,356.6) scale(0.9,1)" font-size="16">20</text>
<text transform="translate(837.3,383.2) scale(0.9,1)" font-size="16">17</text>
<text transform="translate(837.3,405.4) scale(0.9,1)" font-size="16">16</text>
<text transform="translate(837.3,425.9) scale(0.9,1)" font-size="16">19</text>
<text transform="translate(673.6,398.2) scale(0.9,1)" font-size="16">8</text>
<text transform="translate(702.1,423.2) scale(0.9,1)" font-size="16">22</text>
<text transform="translate(731.6,429.2) scale(0.9,1)" font-size="16">14</text>
<text transform="translate(570.1,382.2) scale(0.9,1)" font-size="16">12</text>
<text transform="translate(604.5,424.8) scale(0.9,1)" font-size="16">7</text>
<text transform="translate(653.6,449) scale(0.9,1)" font-size="16">14</text>
<text transform="translate(760.3,462.2) scale(0.9,1)" font-size="16">21</text>
<text transform="translate(760.3,503.4) scale(0.9,1)" font-size="16">7</text>
<text transform="translate(653.6,514.6) scale(0.9,1)" font-size="16">23</text>
<text transform="translate(620.3,509) scale(0.9,1)" font-size="16">24</text>
<text transform="translate(573.3,480.8) scale(0.9,1)" font-size="16">21</text>
<text transform="translate(473.9,497.7) scale(0.9,1)" font-size="16">25</text>
<text transform="translate(504.1,497.7) scale(0.9,1)" font-size="16">26</text>
<text transform="translate(380.1,467.8) scale(0.9,1)" font-size="16">31</text>
<text transform="translate(450.3,528) scale(0.9,1)" font-size="16">27</text>
<text transform="translate(304.5,561.2) scale(0.9,1)" font-size="16">29</text>
<text transform="translate(334.7,574.6) scale(0.9,1)" font-size="16">8</text>
<text transform="translate(350.7,587) scale(0.9,1)" font-size="16">28</text>
<text transform="translate(380.1,598.6) scale(0.9,1)" font-size="16">8</text>
<text transform="translate(398.7,607.4) scale(0.9,1)" font-size="16">30</text>
</g>
<g fill="none" stroke="#3c3c3c" stroke-width="1" opacity="0.8">
<circle cx="245" cy="348.5" r="51"/>
<circle cx="245" cy="349" r="35"/>
<path d="M276,355 C272,326 216,324 209,352 C208,357 212,362 219.5,365 C228,344 262,343 271,366"/>
<path d="M200.7,386.3 C212,425 276,430 287.5,386.3"/>
<path d="M202.7,392.5 C214,436 274,440 287.5,392.5"/>
</g>
<g font-family="Liberation Sans, sans-serif" font-size="105" fill="none" stroke="#5a5a5a" stroke-width="1" opacity="0.85">
<text transform="translate(306,391) scale(1.17,1)" x="0" y="0" stroke-width="0.85">б</text>
<text transform="translate(368,391) scale(1.17,1)" x="0" y="0" stroke-width="0.85">е</text>
<text transform="translate(428,391) scale(1.17,1)" x="0" y="0" stroke-width="0.85">л</text>
<text transform="translate(488,391) scale(1.17,1)" x="0" y="0" stroke-width="0.85">а</text>
<text transform="translate(548,391) scale(1.17,1)" x="0" y="0" stroke-width="0.85">г</text>
<text transform="translate(583,391) scale(1.17,1)" x="0" y="0" stroke-width="0.85">р</text>
<text transform="translate(646,391) scale(1.17,1)" x="0" y="0" stroke-width="0.85">о</text>
</g>
<text x="318" y="419" font-family="Liberation Sans, sans-serif" font-size="22" letter-spacing="1.8" fill="none" stroke="#4a4a4a" stroke-width="1">ГРУППА КОМПАНИЙ</text>
<g fill="#111"><rect x="886.4" y="6.2" width="1.6" height="1.8"/><rect x="888.4" y="4.6" width="2.6" height="2"/><rect x="893" y="6" width="7" height="1.8"/></g>
</svg></body></html>
